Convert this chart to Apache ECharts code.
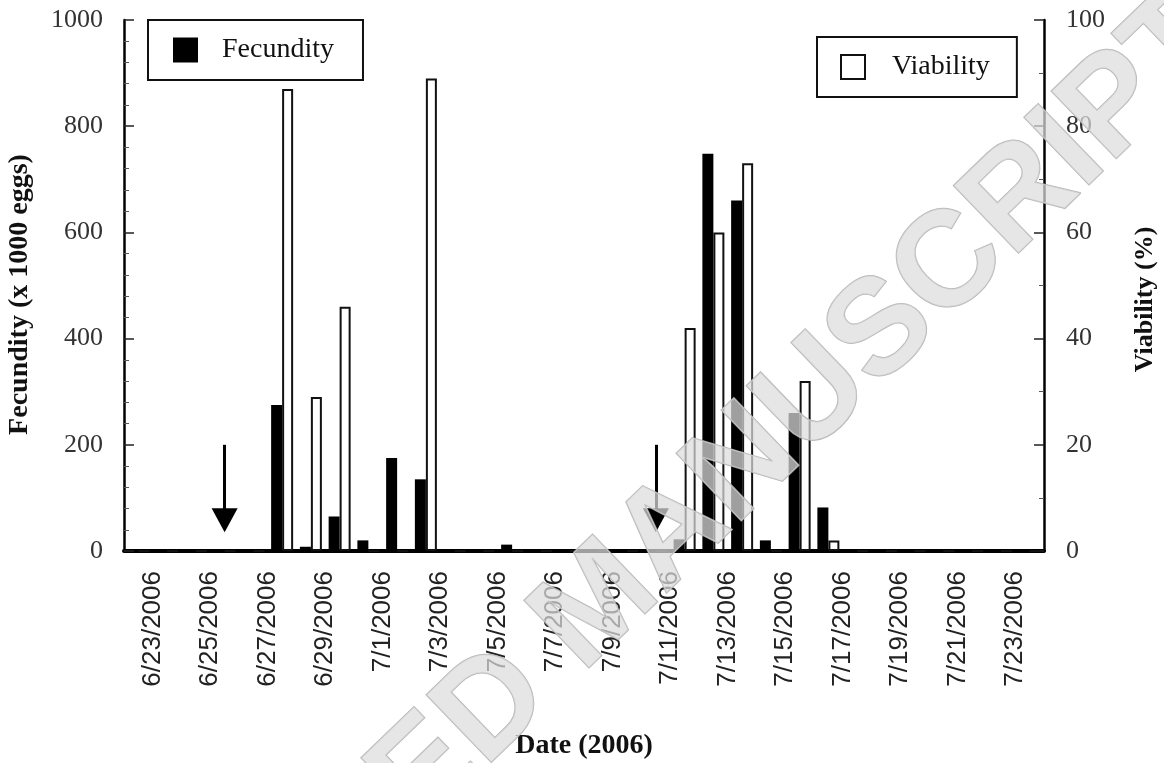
<!DOCTYPE html>
<html>
<head>
<meta charset="utf-8">
<script src="https://cdn.jsdelivr.net/npm/echarts@6/dist/echarts.min.js"></script>
<style>
  html, body { margin: 0; padding: 0; background: #fff; }
  #chart { width: 1164px; height: 763px; }
</style>
</head>
<body>
<div id="chart"></div>
<script>
// one bar pair per day, 6/22 .. 7/23
const days = [
  '6/22/2006', '6/23/2006', '6/24/2006', '6/25/2006', '6/26/2006', '6/27/2006', '6/28/2006', '6/29/2006',
  '6/30/2006', '7/1/2006', '7/2/2006', '7/3/2006', '7/4/2006', '7/5/2006', '7/6/2006', '7/7/2006',
  '7/8/2006', '7/9/2006', '7/10/2006', '7/11/2006', '7/12/2006', '7/13/2006', '7/14/2006', '7/15/2006',
  '7/16/2006', '7/17/2006', '7/18/2006', '7/19/2006', '7/20/2006', '7/21/2006', '7/22/2006', '7/23/2006'
]
// labels sit on the day boundaries (33 ticks), every other one shown
const tickLabels = [
  '', '6/23/2006', '', '6/25/2006', '', '6/27/2006', '', '6/29/2006', '', '7/1/2006', '', '7/3/2006',
  '', '7/5/2006', '', '7/7/2006', '', '7/9/2006', '', '7/11/2006', '', '7/13/2006', '', '7/15/2006',
  '', '7/17/2006', '', '7/19/2006', '', '7/21/2006', '', '7/23/2006', ''
]
// x 1000 eggs
const fecundity = [0, 0, 0, 0, 0, 275, 8, 65, 20, 175, 135, 0, 3, 12, 0, 0,
  0, 0, 0, 22, 748, 660, 20, 260, 82, 0, 0, 0, 0, 0, 0, 0]
// %
const viability = [0, 0, 0, 0, 0, 87, 29, 46, 0, 0, 89, 0, 0, 0, 0, 0,
  0, 0, 0, 42, 60, 73, 0, 32, 2, 0, 0, 0, 0, 0, 0, 0]
// arrows (left axis units)
const arrowDays = ['6/25/2006', '7/10/2006']
const arrowFrom = 200
const arrowTo = 58

const serif = '"Liberation Serif", "DejaVu Serif", serif'
const sans = '"Liberation Sans", Arial, sans-serif'

let chart = echarts.init(document.getElementById('chart'))

let option = {
  backgroundColor: '#fff',
  animation: false,
  grid: {
    left: 124,
    right: 120,
    top: 20,
    bottom: 212,
    containLabel: false,
    outerBoundsMode: 'none',
  },
  legend: [
    {
      data: ['Fecundity'],
      left: 148,
      top: 20,
      icon: 'rect',
      itemWidth: 25,
      itemHeight: 25,
      padding: [16, 29, 16, 25],
      borderColor: '#111',
      borderWidth: 2,
      textStyle: { fontFamily: serif, fontSize: 28, color: '#111', padding: [0, 0, 0, 19] },
    },
    {
      data: ['Viability'],
      left: 817,
      top: 37,
      icon: 'rect',
      itemWidth: 24,
      itemHeight: 24,
      padding: [16, 27, 16, 23],
      borderColor: '#111',
      borderWidth: 2,
      textStyle: { fontFamily: serif, fontSize: 28, color: '#111', padding: [0, 0, 0, 22] },
    },
  ],
  xAxis: [
    {
      type: 'category',
      data: days,
      boundaryGap: true,
      position: 'bottom',
      name: 'Date (2006)',
      nameLocation: 'middle',
      nameGap: 181,
      nameTextStyle: { fontFamily: serif, fontWeight: 'bold', fontSize: 28, color: '#111' },
      axisLine: { onZero: false, lineStyle: { color: '#000', width: 4 } },
      axisTick: { inside: true, length: 8, interval: 0, lineStyle: { color: '#333', width: 1.5 } },
      axisLabel: { show: false },
      splitLine: { show: false },
    },
    {
      type: 'category',
      data: tickLabels,
      boundaryGap: false,
      position: 'bottom',
      axisLine: { show: false, onZero: false },
      axisTick: { show: false },
      axisLabel: {
        interval: 0,
        rotate: 90,
        margin: 20,
        fontFamily: sans,
        fontSize: 26,
        color: '#222',
      },
      splitLine: { show: false },
    },
  ],
  yAxis: [
    {
      type: 'value',
      min: 0,
      max: 1000,
      interval: 200,
      position: 'left',
      name: 'Fecundity (x 1000 eggs)',
      nameLocation: 'middle',
      nameRotate: 90,
      nameGap: 90,
      nameTextStyle: {
        fontFamily: serif, fontWeight: 'bold', fontSize: 28, color: '#111',
        padding: [0, 18, 0, 0],
      },
      axisLine: { show: true, lineStyle: { color: '#000', width: 2.5 } },
      axisTick: { show: true, inside: true, length: 10, lineStyle: { color: '#222', width: 1.5 } },
      minorTick: { show: true, splitNumber: 5, length: 5, lineStyle: { color: '#555', width: 1 } },
      axisLabel: {
        margin: 21, fontFamily: serif, fontSize: 26, color: '#333',
        formatter: (v) => String(v),
      },
      splitLine: { show: false },
    },
    {
      type: 'value',
      min: 0,
      max: 100,
      interval: 20,
      position: 'right',
      name: 'Viability (%)',
      nameLocation: 'middle',
      nameRotate: 90,
      nameGap: 88,
      nameTextStyle: {
        fontFamily: serif, fontWeight: 'bold', fontSize: 26, color: '#111',
        padding: [0, 28, 0, 0],
      },
      axisLine: { show: true, lineStyle: { color: '#000', width: 2.5 } },
      axisTick: { show: true, inside: true, length: 10, lineStyle: { color: '#222', width: 1.5 } },
      minorTick: { show: true, splitNumber: 2, length: 5, lineStyle: { color: '#555', width: 1 } },
      axisLabel: {
        margin: 22, fontFamily: serif, fontSize: 26, color: '#333',
        formatter: (v) => String(v),
      },
      splitLine: { show: false },
    },
  ],
  series: [
    {
      name: 'Fecundity',
      type: 'bar',
      xAxisIndex: 0,
      yAxisIndex: 0,
      barWidth: 11,
      barGap: '0%',
      itemStyle: { color: '#000' },
      data: fecundity,
    },
    {
      name: 'Viability',
      type: 'bar',
      xAxisIndex: 0,
      yAxisIndex: 1,
      barWidth: 11,
      barGap: '0%',
      itemStyle: { color: '#fff', borderColor: '#111', borderWidth: 2 },
      data: viability,
    },
    {
      // carries only the two arrows, centred on their day
      name: 'arrows',
      type: 'line',
      xAxisIndex: 0,
      yAxisIndex: 0,
      data: [],
      markLine: {
        silent: true,
        symbol: ['none', 'triangle'],
        symbolSize: [26, 24],
        label: { show: false },
        lineStyle: { color: '#000', width: 3, type: 'solid' },
        data: arrowDays.map((d) => [
          { coord: [d, arrowFrom] },
          { coord: [d, arrowTo] },
        ]),
      },
    },
  ],
  graphic: [
    {
      // watermark of the source document
      type: 'text',
      x: 600,
      y: 605,
      rotation: (44 * Math.PI) / 180,
      silent: true,
      z: 100,
      style: {
        text: 'ACCEPTED MANUSCRIPT',
        font: 'bold 136px "Liberation Sans", Arial, sans-serif',
        fill: 'rgba(220,220,220,0.72)',
        stroke: 'rgba(175,175,175,0.9)',
        lineWidth: 1.5,
        align: 'center',
        verticalAlign: 'middle',
      },
    },
  ],
}

chart.setOption(option, true)
</script>
</body>
</html>
